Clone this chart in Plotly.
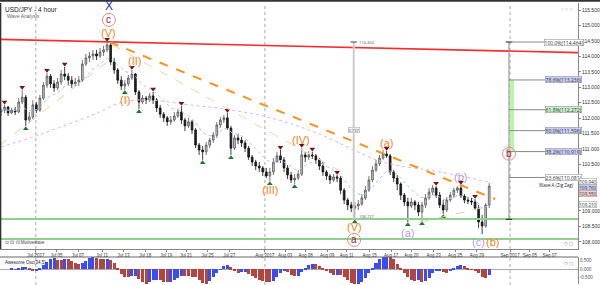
import plotly.graph_objects as go
import pandas as pd

opens = [112.20,112.26,112.36,112.17,112.26,112.20,112.52,112.68,111.94,112.04,
         112.43,112.26,112.65,113.07,113.36,113.11,112.98,113.17,113.43,113.36,
         113.23,113.11,113.17,113.23,113.75,113.95,114.01,114.08,114.01,114.14,
         114.21,114.37,113.82,113.56,113.23,113.04,113.11,113.30,113.43,112.85,
         112.52,112.65,112.59,112.72,112.59,112.33,112.13,112.01,111.88,111.94,
         112.07,112.20,111.94,111.75,111.88,111.62,111.13,110.97,110.91,111.13,
         111.29,111.45,111.78,111.94,112.01,111.68,111.03,111.36,111.29,111.20,
         111.03,110.74,110.58,110.45,110.39,110.26,110.13,110.26,110.58,110.78,
         110.65,110.39,110.16,110.00,110.06,110.19,110.81,110.74,110.81,110.78,
         110.65,110.45,110.26,110.13,110.00,110.10,110.06,109.67,109.35,109.19,
         109.09,109.16,109.22,109.42,109.67,110.00,110.32,110.52,110.71,110.84,
         110.78,110.26,110.06,109.87,109.51,109.29,109.16,109.29,109.19,108.96,
         109.19,109.42,109.61,109.74,109.51,109.19,109.03,109.35,109.51,109.67,
         109.74,109.48,109.35,109.32,109.29,109.09,108.64,108.51,109.19]
highs = [112.33,112.43,112.39,112.33,112.36,112.65,112.91,112.75,112.20,112.59,
         112.52,112.75,113.17,113.46,113.43,113.23,113.30,113.56,113.66,113.46,
         113.36,113.30,113.36,113.88,114.08,114.14,114.21,114.21,114.27,114.34,
         114.46,114.43,113.95,113.62,113.36,113.23,113.40,113.56,113.46,112.91,
         112.75,112.72,112.81,112.85,112.65,112.43,112.20,112.07,112.07,112.20,
         112.30,112.39,112.01,112.01,111.94,111.68,111.20,111.10,111.23,111.36,
         111.55,111.88,112.04,112.10,112.17,111.75,111.45,111.49,111.39,111.29,
         111.10,110.81,110.65,110.58,110.45,110.39,110.39,110.71,110.91,110.97,
         110.74,110.48,110.26,110.19,110.32,111.03,110.91,110.94,110.91,110.84,
         110.71,110.58,110.32,110.19,110.19,110.16,110.13,109.74,109.42,109.29,
         109.29,109.35,109.54,109.80,110.13,110.45,110.65,110.81,110.97,110.94,
         110.84,110.32,110.16,109.93,109.58,109.42,109.42,109.35,109.29,109.29,
         109.54,109.74,109.84,109.80,109.61,109.35,109.45,109.61,109.74,109.80,
         109.84,109.54,109.45,109.42,109.38,109.19,108.87,109.25,109.90]
lows = [112.07,112.17,112.07,112.13,112.10,112.17,112.46,111.75,111.84,111.97,
        112.17,112.20,112.59,112.98,112.98,112.85,112.91,113.07,113.23,113.07,
        112.98,113.01,113.04,113.17,113.69,113.82,113.88,113.88,113.95,114.01,
        114.14,113.72,113.43,113.11,112.91,112.91,113.04,113.23,112.75,112.30,
        112.46,112.46,112.52,112.46,112.20,112.01,111.88,111.75,111.78,111.88,
        112.01,111.81,111.58,111.68,111.49,111.03,110.81,110.65,110.81,111.03,
        111.20,111.36,111.68,111.84,111.62,110.81,110.97,111.16,111.07,110.91,
        110.65,110.45,110.32,110.26,110.13,110.06,109.97,110.16,110.58,110.55,
        110.26,110.03,109.90,109.87,110.00,110.13,110.58,110.65,110.68,110.52,
        110.32,110.13,110.00,109.87,109.93,109.93,109.54,109.22,109.03,108.96,
        108.73,109.03,109.16,109.35,109.61,109.93,110.26,110.45,110.65,110.71,
        110.16,109.93,109.67,109.35,109.16,108.64,109.09,109.03,108.83,108.67,
        109.09,109.35,109.51,109.42,109.09,108.90,108.96,109.29,109.42,109.58,
        109.42,109.25,109.22,109.19,109.03,108.45,108.25,108.45,109.09]
closes = [112.26,112.36,112.17,112.26,112.20,112.52,112.68,111.94,112.04,112.43,
          112.26,112.65,113.07,113.36,113.11,112.98,113.17,113.43,113.36,113.23,
          113.11,113.17,113.23,113.75,113.95,114.01,114.08,114.01,114.14,114.21,
          114.37,113.82,113.56,113.23,113.04,113.11,113.30,113.43,112.85,112.52,
          112.65,112.59,112.72,112.59,112.33,112.13,112.01,111.88,111.94,112.07,
          112.20,111.94,111.75,111.88,111.62,111.13,110.97,110.91,111.13,111.29,
          111.45,111.78,111.94,112.01,111.68,111.03,111.36,111.29,111.20,111.03,
          110.74,110.58,110.45,110.39,110.26,110.13,110.26,110.58,110.78,110.65,
          110.39,110.16,110.00,110.06,110.19,110.81,110.74,110.81,110.78,110.65,
          110.45,110.26,110.13,110.00,110.10,110.06,109.67,109.35,109.19,109.09,
          109.16,109.22,109.42,109.67,110.00,110.32,110.52,110.71,110.84,110.78,
          110.26,110.06,109.87,109.51,109.29,109.16,109.29,109.19,108.96,109.19,
          109.42,109.61,109.74,109.51,109.19,109.03,109.35,109.51,109.67,109.74,
          109.48,109.35,109.32,109.29,109.09,108.64,108.51,109.19,109.80]
bars = list(range(len(closes)))

tick_pos = [9.86, 15.7, 21.8, 28.6, 34.6, 40.8, 46.7, 52.3, 58.4, 64.5, 74.6, 80.3,
            86.1, 92.2, 97.7, 104.2, 110.3, 116.0, 122.3, 128.4, 134.5, 143.9, 149.5, 155.1]
tick_text = ["Jul 2017", "Jul 05", "Jul 07", "Jul 11", "Jul 13", "Jul 18", "Jul 19", "Jul 21",
             "Jul 25", "Jul 27", "Aug 2017", "Aug 03", "Aug 08", "Aug 09", "Aug 11", "Aug 15",
             "Aug 17", "Aug 20", "Aug 23", "Aug 25", "Aug 29", "Sep 2017", "Sep 05", "Sep 07"]
month_starts = [9.86, 74.6, 143.9]

# 110.000 and 109.500 are hidden behind the highlighted value boxes
price_ticks = [108.0, 108.5, 109.0, 110.5, 111.0, 111.5, 112.0,
               112.5, 113.0, 113.5, 114.0, 114.5, 115.0, 115.5]
# highlighted price-axis value boxes (current price / indicator values)
axis_box_values = [109.94, 109.76, 109.55, 109.21]
axis_box_fill = ["#ffffff", "#c9cdf5", "#f5d0d0", "#ffffff"]
osc_ticks = [0.5, 0.0, -0.5]

fractal_high_bars = [1, 6, 13, 18, 30, 37, 43, 51, 64, 79, 85, 88, 95, 109, 123, 130, 134]
fractal_low_bars = [7, 35, 39, 57, 65, 76, 83, 100, 115, 119, 125]

# slow moving average
slow_ma_x = [0, 9, 27.9, 33.5, 39.2, 44.8, 53.2, 61.1, 75.2, 89.3, 105.4, 111.6, 120.8, 129.9, 137.7]
slow_ma_y = [111.07, 111.39, 112.20, 112.49, 112.59, 112.56, 112.43, 112.33, 112.04, 111.52,
             110.68, 110.48, 110.32, 110.13, 109.93]

# trend lines (bar index, price)
resistance_line = [(-0.3, 114.55), (163.1, 114.12)]
wave_trend_line = [(30.7, 114.46), (139.7, 109.38)]
thin_orange_line = [(31.5, 114.37), (96.3, 110.26)]
olive_lines = [[(-0.3, 111.13), (30.7, 113.88)], [(118.6, 108.64), (137.2, 109.13)]]
support_levels = [108.74, 108.09]

# measurement / fibonacci
fib_high, fib_low = 114.464, 108.727
fib_ratios = [1.0, 0.786, 0.618, 0.5, 0.382, 0.236]
fib_fill = ["#ffffff", "#c9cdf5", "#c9f0c9", "#c9cdf5", "#c9cdf5", "#ffffff"]
measure_bar = 99.7
fib_bar = 143.6

# Elliott wave labels
wave_text = ["X", "(V)", "(II)", "(I)", "(III)", "(IV)", "(V)", "(a)", "(a)", "(b)", "(c)", "(b)"]
wave_x = [30.5, 30.5, 37.6, 35.0, 76.3, 84.8, 99.8, 109.0, 114.8, 129.9, 135.0, 138.8]
wave_y = [115.62, 114.76, 113.86, 112.58, 109.66, 111.30, 108.47, 111.20, 108.28, 110.10, 108.00, 108.00]
wave_color = ["#1f2bd6", "#f5821f", "#f5821f", "#f5821f", "#f5821f", "#f5821f", "#f5821f",
              "#f5821f", "#b89ae8", "#b89ae8", "#b89ae8", "#f5821f"]
circle_text = ["c", "a", "b"]
circle_x = [30.5, 99.8, 143.6]
circle_y = [115.18, 108.06, 110.85]

# ---------------- figure ----------------
fig = go.Figure()

fig.add_trace(go.Candlestick(
    x=bars, open=opens, high=highs, low=lows, close=closes,
    increasing=dict(line=dict(color="#555555", width=0.8), fillcolor="#c8c8c8"),
    decreasing=dict(line=dict(color="#111111", width=0.8), fillcolor="#222222"),
    whiskerwidth=0, showlegend=False, xaxis="x", yaxis="y"))

ema = pd.Series(closes).ewm(span=10, adjust=False).mean()
fig.add_trace(go.Scatter(x=bars, y=ema, mode="lines",
                         line=dict(color="#a9c4f5", width=1, dash="dot"), showlegend=False))
fig.add_trace(go.Scatter(x=slow_ma_x, y=slow_ma_y, mode="lines", line_shape="spline",
                         line=dict(color="#e3b3e3", width=1, dash="dot"), showlegend=False))

fig.add_trace(go.Scatter(x=fractal_high_bars, y=[highs[i] + 0.09 for i in fractal_high_bars],
                         mode="markers", marker=dict(symbol="triangle-down", size=5, color="#7a1010"),
                         showlegend=False))
fig.add_trace(go.Scatter(x=fractal_low_bars, y=[lows[i] - 0.09 for i in fractal_low_bars],
                         mode="markers", marker=dict(symbol="triangle-up", size=5, color="#1e7a2a"),
                         showlegend=False))

# Awesome oscillator
median = (pd.Series(highs) + pd.Series(lows)) / 2
ao = median.rolling(3, min_periods=1).mean() - median.rolling(17, min_periods=1).mean()
ao_col = ["#3b4cf5" if i > 0 and ao[i] > ao[i - 1] else "#b2453f" for i in range(len(ao))]
fig.add_trace(go.Bar(x=bars, y=ao, marker=dict(color=ao_col, line=dict(width=0)),
                     width=0.85, xaxis="x2", yaxis="y2", showlegend=False))

shapes = []
for lv in support_levels:
    shapes.append(dict(type="line", xref="x domain", yref="y", x0=0, x1=1, y0=lv, y1=lv,
                       line=dict(color="#8fcf8f", width=2)))
for m in month_starts:
    shapes.append(dict(type="line", xref="x", yref="paper", x0=m, x1=m, y0=0.0, y1=0.99,
                       line=dict(color="#aaaaaa", width=1, dash="dot"), layer="below"))
shapes.append(dict(type="line", xref="x", yref="y",
                   x0=resistance_line[0][0], y0=resistance_line[0][1],
                   x1=resistance_line[1][0], y1=resistance_line[1][1],
                   line=dict(color="#ff2a2a", width=1.6)))
shapes.append(dict(type="line", xref="x", yref="y",
                   x0=thin_orange_line[0][0], y0=thin_orange_line[0][1],
                   x1=thin_orange_line[1][0], y1=thin_orange_line[1][1],
                   line=dict(color="#fbd3a0", width=1, dash="dash")))
for ln in olive_lines:
    shapes.append(dict(type="line", xref="x", yref="y", x0=ln[0][0], y0=ln[0][1],
                       x1=ln[1][0], y1=ln[1][1], line=dict(color="#d8d8a0", width=1, dash="dash")))
shapes.append(dict(type="line", xref="x", yref="y",
                   x0=wave_trend_line[0][0], y0=wave_trend_line[0][1],
                   x1=wave_trend_line[1][0], y1=wave_trend_line[1][1],
                   line=dict(color="#f7931e", width=2, dash="dash")))
# measurement line
shapes.append(dict(type="line", xref="x", yref="y", x0=measure_bar, x1=measure_bar,
                   y0=fib_low, y1=fib_high, line=dict(color="#cccccc", width=2)))
shapes.append(dict(type="line", xref="x", yref="y", x0=measure_bar - 0.9, x1=measure_bar + 0.9,
                   y0=fib_high, y1=fib_high, line=dict(color="#444444", width=1)))
# fibonacci tool
shapes.append(dict(type="line", xref="x", yref="y", x0=fib_bar, x1=fib_bar,
                   y0=fib_low, y1=fib_high, line=dict(color="#888888", width=1)))
shapes.append(dict(type="line", xref="x", yref="y", x0=fib_bar - 0.9, x1=fib_bar + 0.9,
                   y0=fib_high, y1=fib_high, line=dict(color="#222222", width=1)))
shapes.append(dict(type="line", xref="x", yref="y", x0=fib_bar - 0.9, x1=fib_bar + 0.9,
                   y0=fib_low, y1=fib_low, line=dict(color="#222222", width=1)))
shapes.append(dict(type="rect", xref="x", yref="y", x0=fib_bar + 0.3, x1=fib_bar + 1.4,
                   y0=fib_low + 0.382 * (fib_high - fib_low), y1=fib_low + 0.786 * (fib_high - fib_low),
                   fillcolor="#b8f5a8", line=dict(width=0)))
for r in fib_ratios:
    lv = fib_low + r * (fib_high - fib_low)
    shapes.append(dict(type="line", xref="x", yref="y", x0=fib_bar, x1=154.0, y0=lv, y1=lv,
                       line=dict(color="#888888", width=1)))
for cx, cy in zip(circle_x, circle_y):
    shapes.append(dict(type="circle", xref="x", yref="y", xsizemode="pixel", ysizemode="pixel",
                       xanchor=cx, yanchor=cy, x0=-6.5, x1=6.5, y0=-6.5, y1=6.5,
                       line=dict(color="#e38a8a", width=1)))
# panel frames
shapes.append(dict(type="line", xref="paper", yref="paper", x0=0, x1=1, y0=0.0982, y1=0.0982,
                   line=dict(color="#666666", width=1)))
shapes.append(dict(type="line", xref="paper", yref="paper", x0=0.001, x1=0.001, y0=0.1263, y1=0.9895,
                   line=dict(color="#333333", width=1.5)))
shapes.append(dict(type="rect", xref="paper", yref="paper", x0=-0.02, x1=1.05, y0=0.994, y1=1.01,
                   fillcolor="#333333", line=dict(width=0)))

annotations = []
for t, x, y, c in zip(wave_text, wave_x, wave_y, wave_color):
    annotations.append(dict(x=x, y=y, xref="x", yref="y", text=t, showarrow=False,
                            font=dict(size=11 if t != "X" else 12, color=c, family="Arial")))
for t, x, y in zip(circle_text, circle_x, circle_y):
    annotations.append(dict(x=x, y=y, xref="x", yref="y", text=t, showarrow=False,
                            font=dict(size=10, color="#a01818", family="Arial")))
for r, fc in zip(fib_ratios, fib_fill):
    lv = fib_low + r * (fib_high - fib_low)
    annotations.append(dict(x=159.0, y=lv, xref="x", yref="y",
                            text=f"{r * 100:.1f}%({lv:.3f})", showarrow=False,
                            font=dict(size=5, color="#333333"), bgcolor=fc,
                            bordercolor="#999999", borderwidth=0.6, borderpad=0))
annotations.append(dict(x=162.6, y=109.83, xref="x", yref="y", text="Wave A (Zig Zag)",
                        showarrow=False, xanchor="right", font=dict(size=4.5, color="#222222")))
for v, fc in zip(axis_box_values, axis_box_fill):
    annotations.append(dict(x=1.0, y=v, xref="paper", yref="y", text=f"{v:.3f}", showarrow=False,
                            xanchor="left", xshift=1, font=dict(size=4.5, color="#333333"),
                            bgcolor=fc, bordercolor="#999999", borderwidth=0.5, borderpad=0))
annotations.append(dict(x=measure_bar + 0.8, y=fib_high, xref="x", yref="y", text=f"{fib_high:.3f}",
                        showarrow=False, xanchor="left", font=dict(size=4, color="#555555")))
annotations.append(dict(x=measure_bar, y=111.62, xref="x", yref="y",
                        text=f"{fib_high - fib_low:.3f}", showarrow=False,
                        font=dict(size=4, color="#555555"), bgcolor="#eeeeee",
                        bordercolor="#aaaaaa", borderwidth=0.5, borderpad=0))
annotations.append(dict(x=measure_bar + 0.8, y=fib_low + 0.08, xref="x", yref="y",
                        text=f"{fib_low:.3f}", showarrow=False, xanchor="left",
                        font=dict(size=4, color="#555555")))
annotations.append(dict(x=0.005, y=0.985, xref="paper", yref="paper", text="USD/JPY - 4 hour",
                        showarrow=False, xanchor="left", yanchor="top",
                        font=dict(size=6.5, color="#222222", family="Arial")))
annotations.append(dict(x=0.008, y=0.962, xref="paper", yref="paper", text="Wave Analysis",
                        showarrow=False, xanchor="left", yanchor="top",
                        font=dict(size=5, color="#666666", family="Arial")))
annotations.append(dict(x=0.995, y=0.985, xref="paper", yref="paper", text="○ ○ ○",
                        showarrow=False, xanchor="right", yanchor="top",
                        font=dict(size=5, color="#888888")))
annotations.append(dict(x=0.995, y=0.13, xref="paper", yref="paper", text="◇ ◻",
                        showarrow=False, xanchor="right", yanchor="bottom",
                        font=dict(size=5, color="#888888")))
annotations.append(dict(x=0.995, y=0.095, xref="paper", yref="paper", text="◇ ◻",
                        showarrow=False, xanchor="right", yanchor="top",
                        font=dict(size=5, color="#888888")))
annotations.append(dict(x=0.005, y=0.135, xref="paper", yref="paper", text="⊙ ⊡ ⊡ Motivewave",
                        showarrow=False, xanchor="left", yanchor="bottom",
                        font=dict(size=4.5, color="#444444", family="Arial")))
annotations.append(dict(x=0.005, y=0.095, xref="paper", yref="paper", text="Awesome Osc(34,5)",
                        showarrow=False, xanchor="left", yanchor="top",
                        font=dict(size=4.5, color="#222222", family="Arial")))

fig.update_layout(
    width=600, height=285, margin=dict(l=0, r=20, t=0, b=0),
    paper_bgcolor="white", plot_bgcolor="white", showlegend=False,
    shapes=shapes, annotations=annotations, bargap=0,
    xaxis=dict(domain=[0, 1], range=[-0.28, 163.1], anchor="y", tickvals=tick_pos, ticktext=tick_text,
               tickangle=0, tickfont=dict(size=4.5, color="#333333", family="Arial"),
               ticks="outside", ticklen=2,
               tickcolor="#888888", showgrid=False, zeroline=False, showline=True, linecolor="#888888",
               rangeslider=dict(visible=False)),
    yaxis=dict(domain=[0.1263, 0.9895], range=[107.766, 115.727], side="right", tickvals=price_ticks,
               ticktext=[f"{p:.3f}" for p in price_ticks], tickfont=dict(size=5, color="#333333", family="Arial"),
               ticks="outside", ticklen=2, tickcolor="#888888", showgrid=False, zeroline=False,
               showline=True, linecolor="#888888"),
    xaxis2=dict(domain=[0, 1], range=[-0.28, 163.1], anchor="y2", showticklabels=False, showgrid=False,
                zeroline=False, showline=False),
    yaxis2=dict(domain=[0.0035, 0.0982], range=[-0.92, 0.74], side="right", anchor="x2",
                tickvals=osc_ticks, ticktext=[f"{v:.3f}" for v in osc_ticks],
                tickfont=dict(size=4.5, color="#333333"), showgrid=False, zeroline=True,
                zerolinecolor="#aaaaaa", zerolinewidth=1, showline=True, linecolor="#888888"),
)

fig.write_html("out.html")
